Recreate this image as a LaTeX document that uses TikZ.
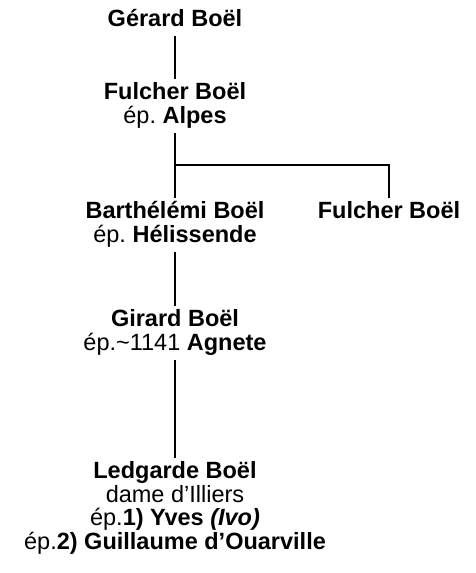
\documentclass[tikz,border=0pt]{standalone}
\usepackage{fontspec}
\setmainfont{Liberation Sans}
\frenchspacing
\newcommand{\lowstrut}{\vrule width0pt height0pt depth10pt}
\begin{document}
\begin{tikzpicture}[x=1pt,y=-1pt,
  person/.style={align=center,inner sep=0pt,anchor=base,
    font=\fontsize{23.5}{23.5}\selectfont,execute at end node=\lowstrut},
  tie/.style={line width=2pt,shorten >=3pt}]
% base of a person = baseline of its last line
\pgfmathsetmacro{\xmain}{175}
\pgfmathsetmacro{\xside}{389}
\pgfmathsetmacro{\yfork}{165}
\useasboundingbox (0,0) rectangle (475,573);
  \node[person] (gerard) at (\xmain,26) {\textbf{Gérard Boël}};
  \node[person] (fulcher) at (\xmain,123) {\textbf{Fulcher Boël}\\ép. \textbf{Alpes}};
  \node[person] (barthelemi) at (\xmain,242) {\textbf{Barthélémi Boël}\\ép. \textbf{Hélissende}};
  \node[person] (fulcherb) at (\xside,218.5) {\textbf{Fulcher Boël}};
  \node[person] (girard) at (\xmain,350) {\textbf{Girard Boël}\\ép.\textasciitilde1141 \textbf{Agnete}};
  \node[person] (ledgarde) at (\xmain,549) {\textbf{Ledgarde Boël}\\dame d’Illiers\\
    ép.\textbf{1) Yves \textit{(Ivo)}}\\ép.\textbf{2) Guillaume d’Ouarville}};
  \coordinate (fork) at (\xmain,\yfork);
  \draw[tie] (gerard.south) -- (fulcher.north);
  \draw[tie] (fulcher.south) -- (barthelemi.north);
  \draw[tie] (fork) -| (fulcherb.north);
  \draw[tie] (barthelemi.south) -- (girard.north);
  \draw[tie] (girard.south) -- (ledgarde.north);
\end{tikzpicture}
\end{document}
